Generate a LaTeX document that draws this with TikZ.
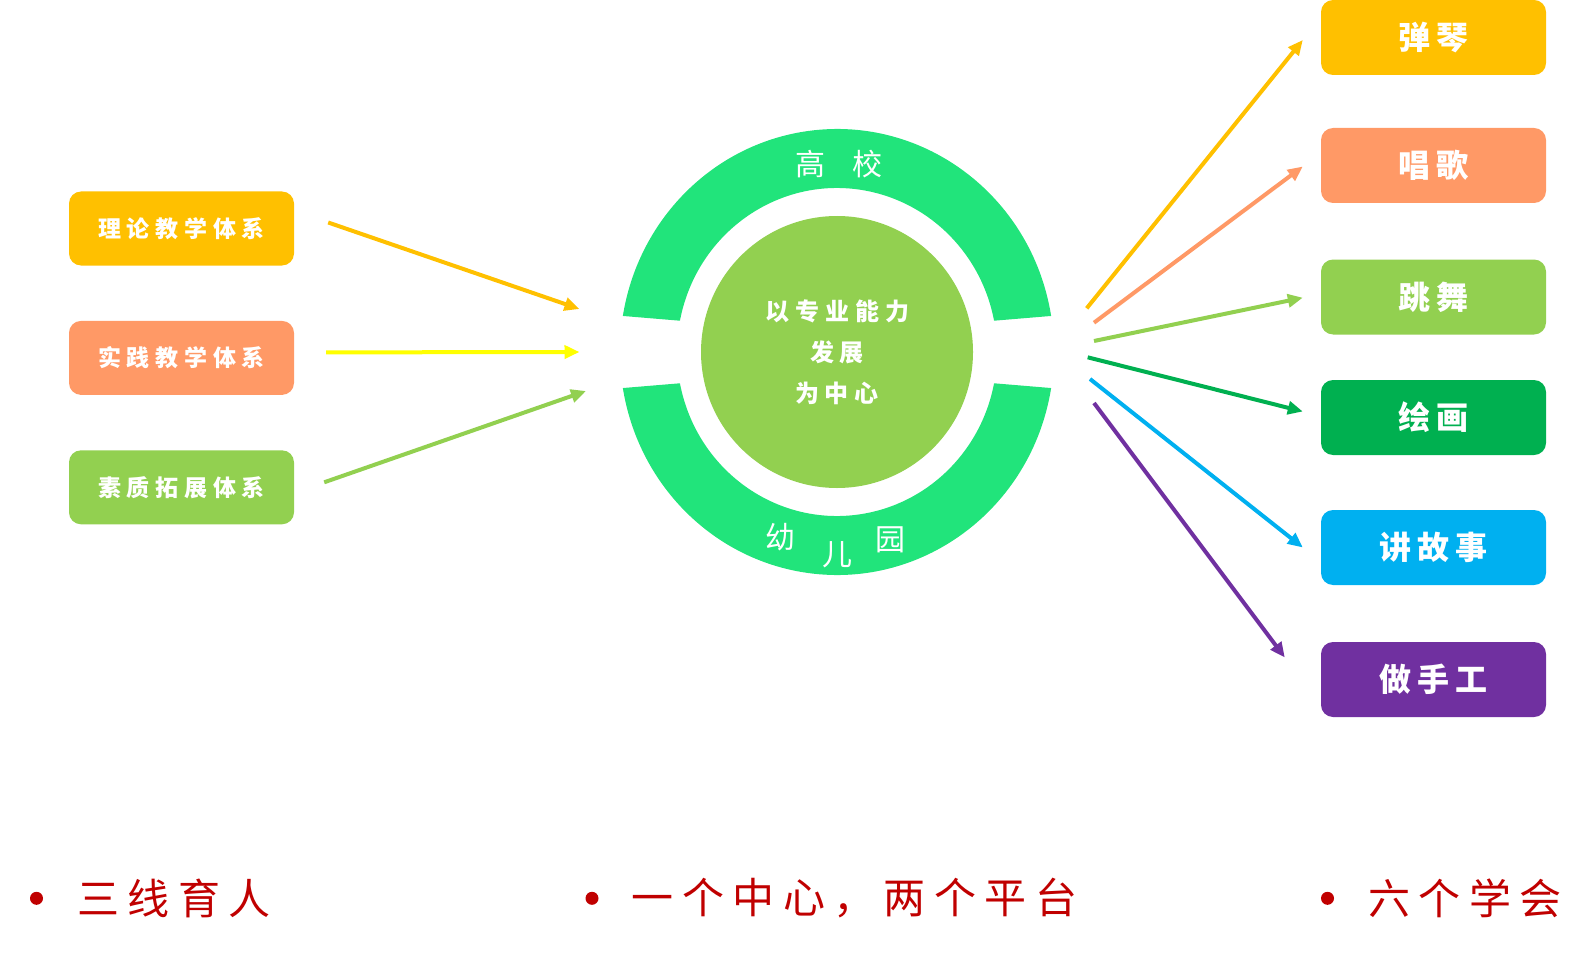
\documentclass[tikz,border=0pt]{standalone}
\usepackage{fontspec}
\setmainfont{Noto Sans CJK SC}
\newfontfamily\boxfont[LetterSpace=25]{Noto Sans CJK SC}
\newfontfamily\tagfont[LetterSpace=20]{Noto Sans CJK SC}
\newfontfamily\mottofont[LetterSpace=20]{Noto Sans CJK SC}
\usetikzlibrary{arrows.meta,positioning}
\definecolor{gold}{HTML}{FFC000}
\definecolor{salmon}{HTML}{FF9966}
\definecolor{lime}{HTML}{92D050}
\definecolor{leaf}{HTML}{00B050}
\definecolor{sky}{HTML}{00B0F0}
\definecolor{grape}{HTML}{7030A0}
\definecolor{lemon}{HTML}{FFFF00}
\definecolor{ring}{HTML}{21E47B}
\definecolor{wine}{HTML}{C00000}

\begin{document}
\begin{tikzpicture}[x=1pt,y=1pt]
			\tikzstyle{leftbox} = [rectangle, rounded corners=12pt, minimum width=225pt, minimum height=74pt, inner sep=0pt, text=white, font=\boxfont\bfseries\fontsize{23pt}{26pt}\selectfont]
			\tikzstyle{rightbox} = [rectangle, rounded corners=12pt, minimum width=225pt, minimum height=75pt, inner sep=0pt, text=white, font=\tagfont\bfseries\fontsize{32pt}{34pt}\selectfont]
			\tikzstyle{arrow} = [line width=4pt, -{Triangle[length=15pt,width=13pt]}]
			\tikzstyle{bullet} = [circle, fill=wine, minimum size=13pt, inner sep=0pt]
			\tikzstyle{motto} = [inner sep=0pt, text=wine, font=\mottofont\fontsize{42pt}{46pt}\selectfont]
			\tikzstyle{ringtext} = [inner sep=0pt, text=white, font=\fontsize{30pt}{32pt}\selectfont]
			
			\useasboundingbox (0,0) rectangle (1595,-960);
			
			\node (theory) [leftbox, fill=gold] at (181.5,-228.5) {理论教学体系};
			\node (practice) [leftbox, fill=salmon, below=55pt of theory] {实践教学体系};
			\node (quality) [leftbox, fill=lime, below=55pt of practice] {素质拓展体系};
			
			\node (hub) [circle, fill=lime, minimum size=272pt, inner sep=0pt, text=white, align=center, font=\boxfont\bfseries\fontsize{24pt}{41pt}\selectfont] at (837,-352) {以专业能力\\发展\\为中心};
			
			\fill[ring] ([shift={(9.3:217pt and 223pt)}]hub.center) arc[start angle=9.3, end angle=170.7, x radius=217pt, y radius=223pt] -- ([shift={(169:160pt and 164pt)}]hub.center) arc[start angle=169, end angle=11, x radius=160pt, y radius=164pt] -- cycle;
			\fill[ring] ([shift={(-9.3:217pt and 223pt)}]hub.center) arc[start angle=-9.3, end angle=-170.7, x radius=217pt, y radius=223pt] -- ([shift={(-169:160pt and 164pt)}]hub.center) arc[start angle=-169, end angle=-11, x radius=160pt, y radius=164pt] -- cycle;
			
			\node (gao) [ringtext] at ([shift={(-27,188)}]hub.center) {高};
			\node (xiao) [ringtext] at ([shift={(30.5,188)}]hub.center) {校};
			\node (you) [ringtext] at ([shift={(-57,-185.5)}]hub.center) {幼};
			\node (er) [ringtext] at ([shift={(0,-203)}]hub.center) {儿};
			\node (yuan) [ringtext] at ([shift={(53.5,-187.5)}]hub.center) {园};
			
			\node (piano) [rightbox, fill=gold] at (1433.5,-37.5) {弹琴};
			\node (sing) [rightbox, fill=salmon] at (1433.5,-165.5) {唱歌};
			\node (dance) [rightbox, fill=lime] at (1433.5,-297) {跳舞};
			\node (paint) [rightbox, fill=leaf] at (1433.5,-417.5) {绘画};
			\node (story) [rightbox, fill=sky] at (1433.5,-547.5) {讲故事};
			\node (craft) [rightbox, fill=grape] at (1433.5,-679.5) {做手工};
			
			\draw[arrow, gold] ([xshift=34pt,yshift=6pt]theory.east) -- ([xshift=-257.5pt,yshift=43pt]hub.center);
			\draw[arrow, lemon] ([xshift=32pt,yshift=5.5pt]practice.east) -- ([xshift=-257.5pt]hub.center);
			\draw[arrow, lime] ([xshift=30pt,yshift=5pt]quality.east) -- ([xshift=-251pt,yshift=-39pt]hub.center);
			
			\draw[arrow, gold] ([xshift=249.7pt,yshift=43.7pt]hub.center) -- ([xshift=-18pt,yshift=-2.5pt]piano.west);
			\draw[arrow, salmon] ([xshift=257pt,yshift=29.3pt]hub.center) -- ([xshift=-18pt,yshift=-1pt]sing.west);
			\draw[arrow, lime] ([xshift=257pt,yshift=11pt]hub.center) -- ([xshift=-18pt,yshift=-0.7pt]dance.west);
			\draw[arrow, leaf] ([xshift=250.7pt,yshift=-5.3pt]hub.center) -- ([xshift=-18pt,yshift=6pt]paint.west);
			\draw[arrow, sky] ([xshift=253pt,yshift=-27pt]hub.center) -- ([xshift=-18pt]story.west);
			\draw[arrow, grape] ([xshift=257pt,yshift=-51pt]hub.center) -- ([xshift=-36pt,yshift=22pt]craft.west);
			
			\node (dot1) [bullet] at (36.5,-898.3) {};
			\node (motto1) [motto, right=34pt of dot1] {三线育人};
			\node (dot2) [bullet] at (592,-898.3) {};
			\node (motto2) [motto, right=33pt of dot2] {一个中心，两个平台};
			\node (dot3) [bullet] at (1327.5,-898.3) {};
			\node (motto3) [motto, right=34pt of dot3] {六个学会};
			
	\end{tikzpicture}
\end{document}
